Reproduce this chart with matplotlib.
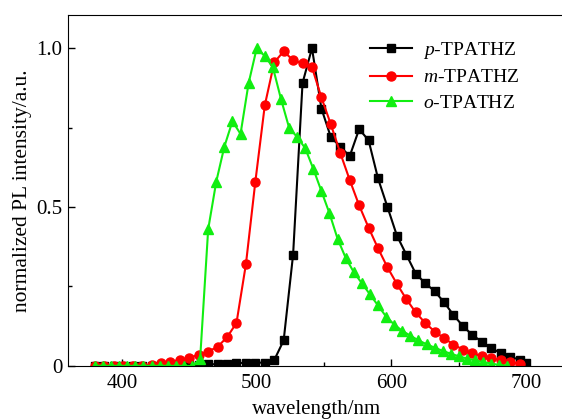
import matplotlib
matplotlib.use("Agg")
import matplotlib.pyplot as plt
from matplotlib.ticker import MultipleLocator, FixedFormatter, FixedLocator

plt.rcParams['font.family'] = ['Liberation Serif', 'DejaVu Serif']
plt.rcParams['mathtext.fontset'] = 'custom'
plt.rcParams['mathtext.it'] = 'Liberation Serif:italic'
plt.rcParams['mathtext.rm'] = 'Liberation Serif'

# PL spectra, wavelength in nm and normalized intensity
wl_p = [380, 387, 394, 401, 408, 415, 422, 429, 436, 443, 450, 457, 464,
        471, 478, 485, 492, 499, 506, 513, 520, 527, 534, 541, 548, 555,
        562, 569, 576, 583, 590, 597, 604, 611, 618, 625, 632, 639, 646,
        653, 660, 667, 674, 681, 688, 695, 700]
pl_p = [0, 0, 0, 0, 0, 0, 0, 0, 0.001, 0.002, 0.003, 0.004, 0.005,
        0.005, 0.006, 0.008, 0.01, 0.01, 0.01, 0.018, 0.08, 0.35, 0.89,
        1.0, 0.81, 0.72, 0.69, 0.66, 0.745, 0.71, 0.59, 0.50, 0.41, 0.35,
        0.29, 0.26, 0.235, 0.20, 0.16, 0.125, 0.097, 0.076, 0.056, 0.04,
        0.029, 0.019, 0.01]

wl_m = [380, 387, 394, 401, 408, 415, 422, 429, 436, 443, 450, 457, 464,
        471, 478, 485, 492, 499, 506, 513, 520, 527, 534, 541, 548, 555,
        562, 569, 576, 583, 590, 597, 604, 611, 618, 625, 632, 639, 646,
        653, 660, 667, 674, 681, 688, 695]
pl_m = [0, 0, 0, 0, 0, 0, 0.003, 0.008, 0.013, 0.018, 0.025, 0.035,
        0.045, 0.06, 0.09, 0.135, 0.32, 0.58, 0.82, 0.955, 0.99, 0.962,
        0.952, 0.94, 0.845, 0.76, 0.67, 0.585, 0.505, 0.435, 0.37, 0.31,
        0.258, 0.21, 0.168, 0.135, 0.108, 0.087, 0.067, 0.051, 0.04, 0.03,
        0.024, 0.018, 0.012, 0.006]

wl_o = [380, 386, 392, 398, 404, 410, 416, 422, 428, 434, 440, 446, 452,
        458, 464, 470, 476, 482, 488, 494, 500, 506, 512, 518, 524, 530,
        536, 542, 548, 554, 560, 566, 572, 578, 584, 590, 596, 602, 608,
        614, 620, 626, 632, 638, 644, 650, 656, 662, 668, 674, 680, 686]
pl_o = [0, 0, 0, 0, 0, 0, 0, 0, 0, 0, 0, 0, 0, 0.02, 0.43, 0.58, 0.69,
        0.77, 0.73, 0.89, 1.0, 0.975, 0.94, 0.84, 0.75, 0.72, 0.685, 0.62,
        0.55, 0.48, 0.40, 0.34, 0.295, 0.26, 0.225, 0.19, 0.155, 0.13,
        0.11, 0.095, 0.08, 0.068, 0.057, 0.047, 0.038, 0.03, 0.023, 0.017,
        0.012, 0.007, 0.003, 0.0]

fig = plt.figure(figsize=(5.62, 4.2), dpi=100)
ax = fig.add_axes([0.121, 0.129, 0.885, 0.835])

ax.plot(wl_p, pl_p, color='black', lw=1.5, marker='s', ms=5.5,
        label=r'$\it{p}$-TPATHZ')
ax.plot(wl_m, pl_m, color='#ff0000', lw=1.5, marker='o', ms=6.5,
        label=r'$\it{m}$-TPATHZ')
ax.plot(wl_o, pl_o, color='#11ee11', lw=1.5, marker='^', ms=6.5,
        label=r'$\it{o}$-TPATHZ')

ax.set_xlim(360, 729)
ax.set_ylim(0, 1.104)
ax.xaxis.set_major_locator(FixedLocator([400, 500, 600, 700]))
ax.xaxis.set_minor_locator(MultipleLocator(50))
ax.yaxis.set_major_locator(FixedLocator([0, 0.5, 1.0]))
ax.yaxis.set_major_formatter(FixedFormatter(['0', '0.5', '1.0']))
ax.yaxis.set_minor_locator(MultipleLocator(0.25))
ax.tick_params(which='both', direction='in', labelsize=15)
ax.tick_params(which='major', length=5, width=1)
ax.tick_params(which='minor', length=3, width=1)
ax.tick_params(axis='x', pad=6)
ax.tick_params(axis='y', pad=4)
ax.spines['right'].set_visible(False)

ax.set_xlabel('wavelength/nm', fontsize=15, labelpad=5)
ax.set_ylabel('normalized PL intensity/a.u.', fontsize=15.5, labelpad=3)

ax.legend(loc='upper left', bbox_to_anchor=(0.608, 0.93), frameon=False,
          fontsize=14, handlelength=2.15, labelspacing=0.42,
          handletextpad=0.55, borderpad=0, borderaxespad=0)

fig.savefig('out.png', dpi=100)
